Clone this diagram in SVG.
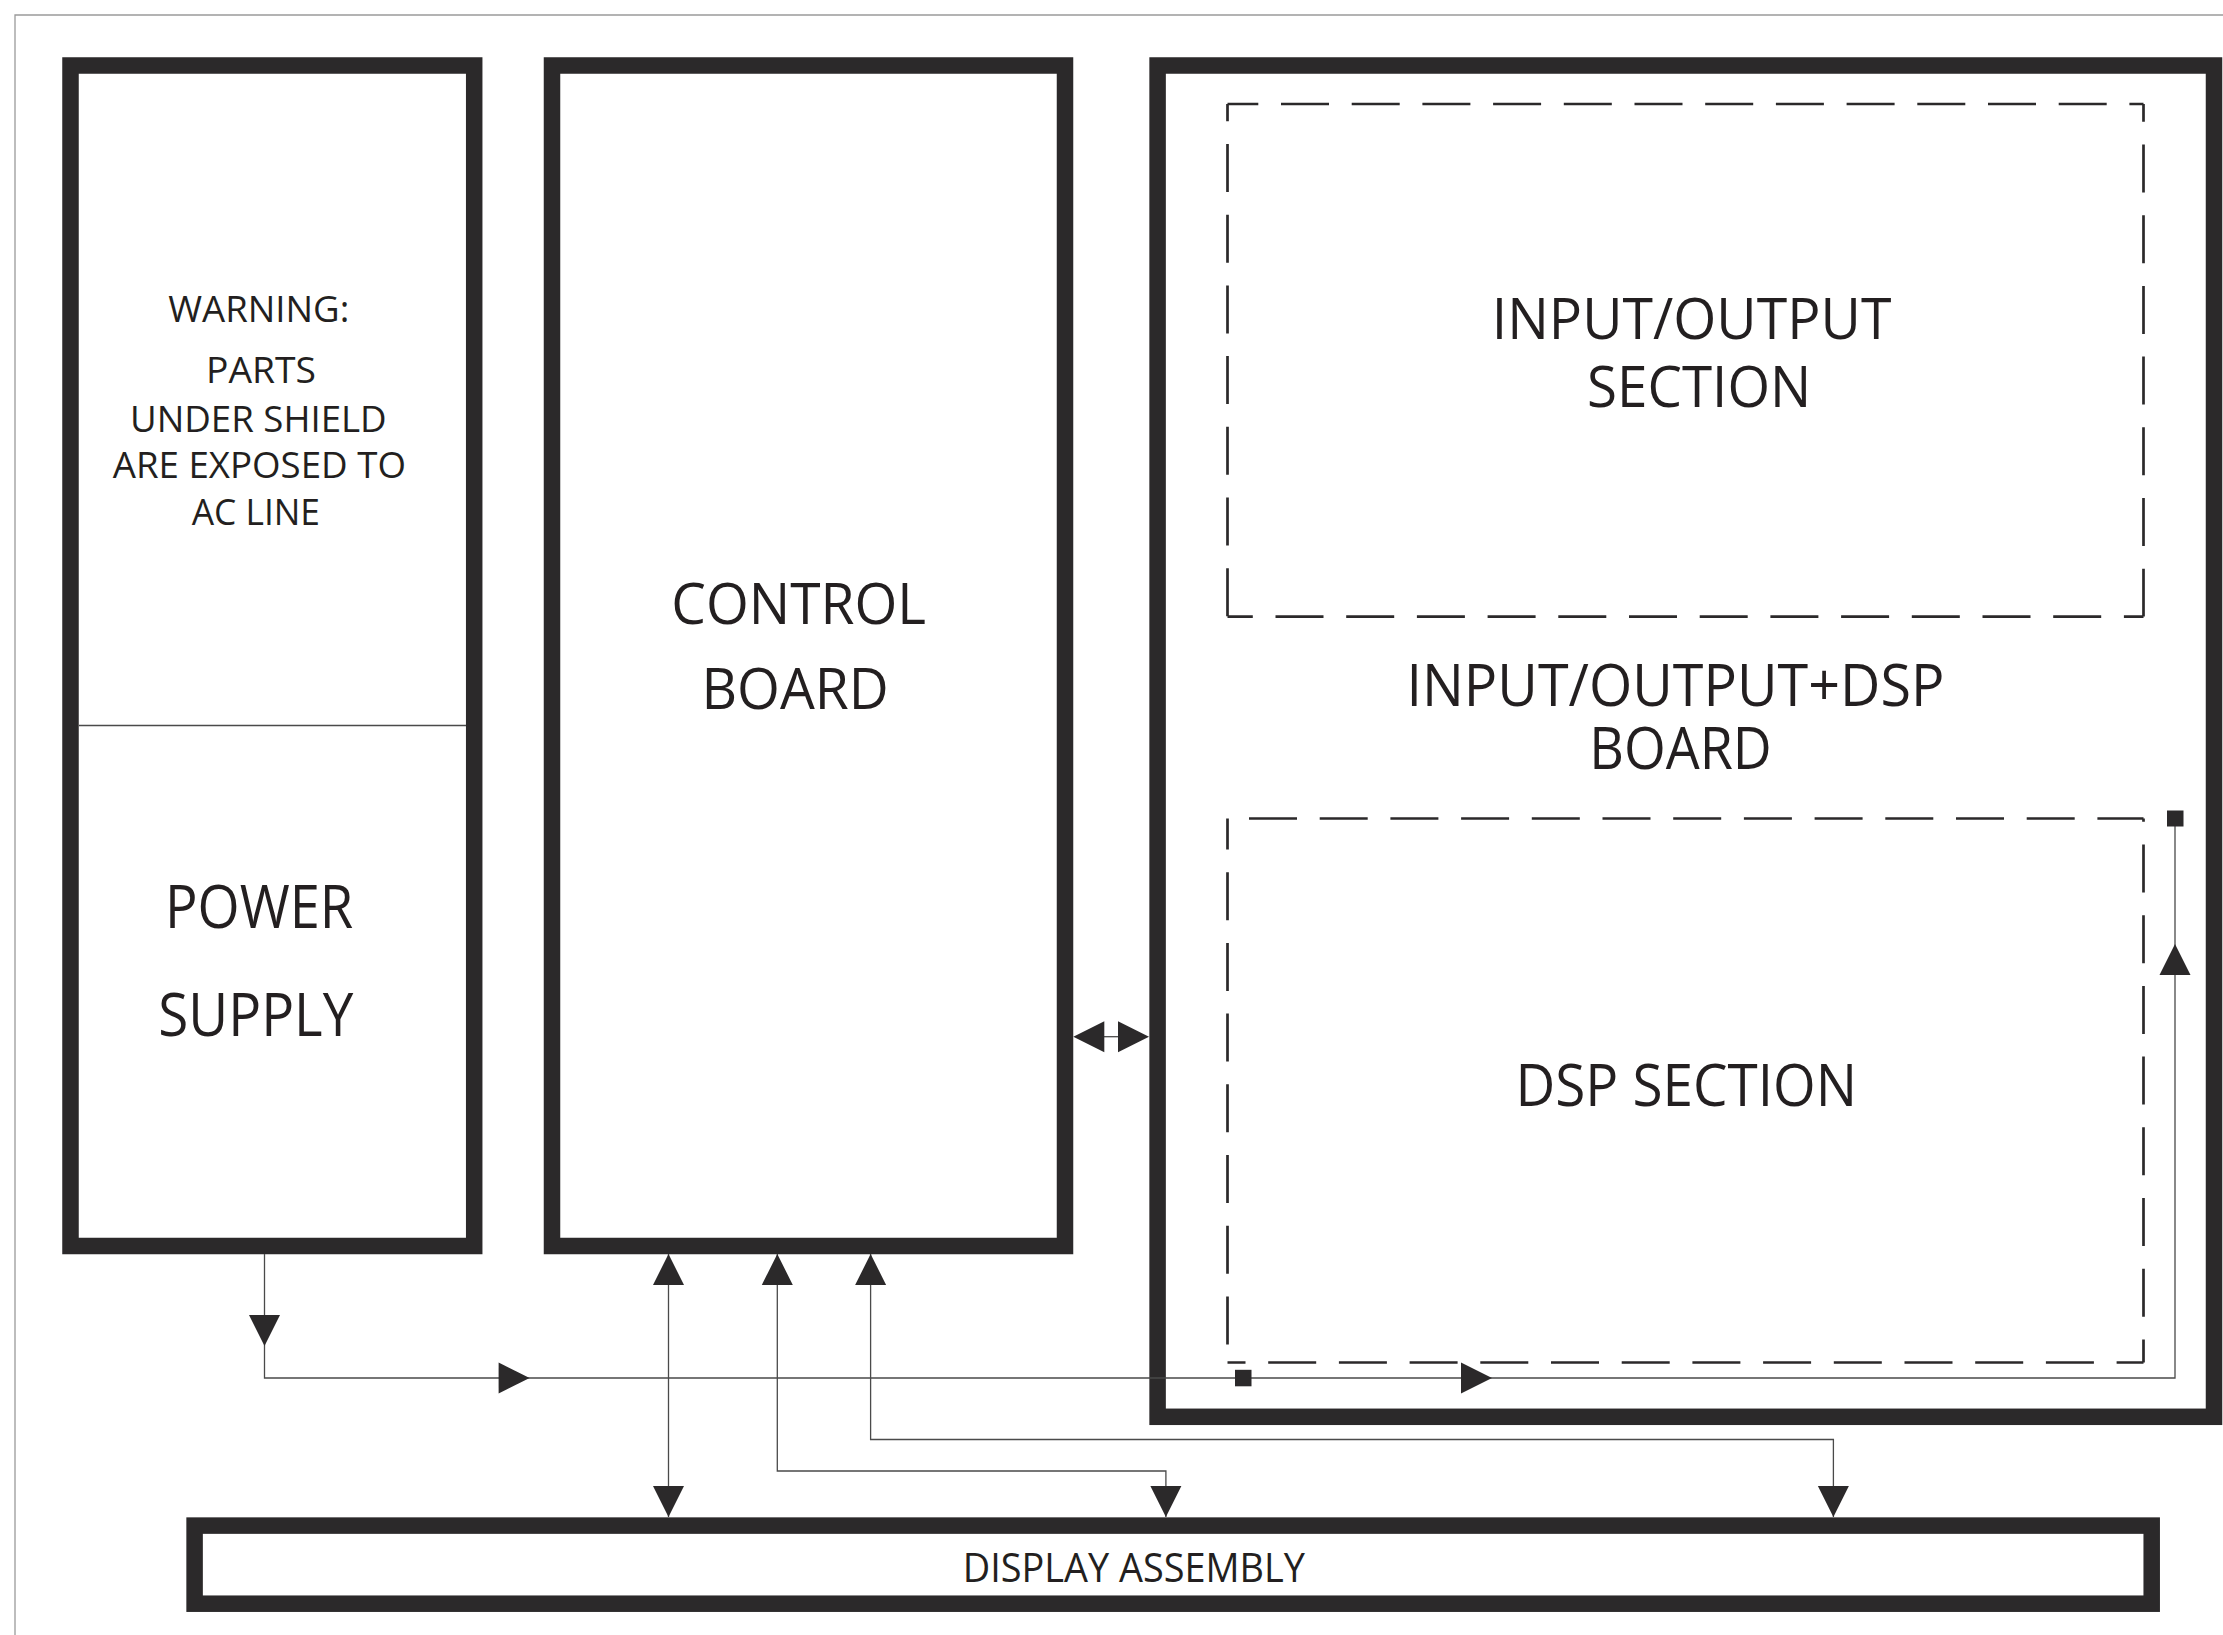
<svg xmlns="http://www.w3.org/2000/svg" xmlns:xlink="http://www.w3.org/1999/xlink" width="2223" height="1635" viewBox="0 0 2223 1635">
<style>
.box{fill:none;stroke:#2b292a;stroke-width:16.5}
.dash{fill:none;stroke:#2b292a;stroke-width:2.7;stroke-dasharray:48 22.7}
.thin{fill:none;stroke:#4a4a4a;stroke-width:1.3}
.frame{fill:none;stroke:#9a9a9a;stroke-width:1.3}
.sq{fill:#2b292a}
text{font-family:"Open Sans","Liberation Sans",sans-serif;fill:#231f20}
</style>
<defs>
<path id="ah" d="M0,0 L-31,-15.5 L-31,15.5 Z" fill="#2b292a"/>
</defs>
<rect x="0" y="0" width="2223" height="1635" fill="#ffffff"/>
<g id="frame">
<path class="frame" d="M15,1635 V15 H2223"/>
</g>

<g id="node-power-supply">
<rect class="box" x="70.5" y="65.5" width="403.7" height="1180.5"/>
<line class="thin" x1="79" y1="725.5" x2="466" y2="725.5"/>
<text font-size="36"><tspan x="168.3" y="321.7" textLength="181" lengthAdjust="spacingAndGlyphs">WARNING:</tspan><tspan x="206" y="383.3" textLength="110" lengthAdjust="spacingAndGlyphs">PARTS</tspan><tspan x="130" y="431.7" textLength="256.7" lengthAdjust="spacingAndGlyphs">UNDER SHIELD</tspan><tspan x="112.7" y="478.3" textLength="293.3" lengthAdjust="spacingAndGlyphs">ARE EXPOSED TO</tspan><tspan x="191.7" y="525" textLength="128.3" lengthAdjust="spacingAndGlyphs">AC LINE</tspan></text>
<text font-size="60.5"><tspan x="165" y="928.3" textLength="188.3" lengthAdjust="spacingAndGlyphs">POWER</tspan><tspan x="158.3" y="1035.7" textLength="195" lengthAdjust="spacingAndGlyphs">SUPPLY</tspan></text>
</g>

<g id="node-control-board">
<rect class="box" x="552" y="65.5" width="513" height="1180.5"/>
<text font-size="57"><tspan x="671.3" y="623.8" textLength="254.7" lengthAdjust="spacingAndGlyphs">CONTROL</tspan><tspan x="701.5" y="709.2" textLength="187.3" lengthAdjust="spacingAndGlyphs">BOARD</tspan></text>
</g>

<g id="node-io-dsp-board">
<rect class="box" x="1157.6" y="65.5" width="1056.4" height="1351.3"/>
<text font-size="58.5"><tspan x="1406.4" y="706" textLength="538" lengthAdjust="spacingAndGlyphs">INPUT/OUTPUT+DSP</tspan><tspan x="1589.3" y="769.3" textLength="182.5" lengthAdjust="spacingAndGlyphs">BOARD</tspan></text>
<g id="node-io-section">
<line class="dash" x1="1227.5" y1="104" x2="2143.5" y2="104" stroke-dashoffset="17.2"/>
<line class="dash" x1="1227.5" y1="104" x2="1227.5" y2="616.6" stroke-dashoffset="30.7"/>
<line class="dash" x1="2143.5" y1="104" x2="2143.5" y2="616.6" stroke-dashoffset="30.2"/>
<line class="dash" x1="1227.5" y1="616.6" x2="2143.5" y2="616.6" stroke-dashoffset="22.7"/>
<text font-size="56.5"><tspan x="1491.7" y="339.3" textLength="399.7" lengthAdjust="spacingAndGlyphs">INPUT/OUTPUT</tspan><tspan x="1587" y="407.2" textLength="224.2" lengthAdjust="spacingAndGlyphs">SECTION</tspan></text>
</g>
<g id="node-dsp-section">
<line class="dash" x1="1227.5" y1="818.5" x2="2143.5" y2="818.5" stroke-dashoffset="49.2"/>
<line class="dash" x1="1227.5" y1="818.5" x2="1227.5" y2="1362.5" stroke-dashoffset="17"/>
<line class="dash" x1="2143.5" y1="818.5" x2="2143.5" y2="1362.5" stroke-dashoffset="44.7"/>
<line class="dash" x1="1227.5" y1="1362.5" x2="2143.5" y2="1362.5" stroke-dashoffset="30"/>
<text x="1515.4" y="1106" font-size="59" textLength="341.6" lengthAdjust="spacingAndGlyphs">DSP SECTION</text>
</g>
</g>

<g id="node-display-assembly">
<rect class="box" x="194.6" y="1525.6" width="1957.1" height="78.1"/>
<text x="962.7" y="1581.7" font-size="40" textLength="342.3" lengthAdjust="spacingAndGlyphs">DISPLAY ASSEMBLY</text>
</g>

<g id="connectors">
<path class="thin" d="M264.5,1254 V1378 H2175 V818"/>
<use xlink:href="#ah" transform="translate(264.5,1346) rotate(90)"/>
<use xlink:href="#ah" transform="translate(529.6,1378)"/>
<use xlink:href="#ah" transform="translate(1492,1378)"/>
<use xlink:href="#ah" transform="translate(2175,944) rotate(-90)"/>
<rect class="sq" x="1235" y="1369.8" width="16.5" height="16.5"/>
<rect class="sq" x="2167" y="810.5" width="16.5" height="16"/>
<line class="thin" x1="668.5" y1="1254" x2="668.5" y2="1517"/>
<use xlink:href="#ah" transform="translate(668.5,1254) rotate(-90)"/>
<use xlink:href="#ah" transform="translate(668.5,1517) rotate(90)"/>
<path class="thin" d="M777.3,1254 V1471 H1165.9 V1517"/>
<use xlink:href="#ah" transform="translate(777.3,1254) rotate(-90)"/>
<use xlink:href="#ah" transform="translate(1165.9,1517) rotate(90)"/>
<path class="thin" d="M870.6,1254 V1439.5 H1833.4 V1517"/>
<use xlink:href="#ah" transform="translate(870.6,1254) rotate(-90)"/>
<use xlink:href="#ah" transform="translate(1833.4,1517) rotate(90)"/>
<line class="thin" x1="1100" y1="1036.7" x2="1122" y2="1036.7"/>
<use xlink:href="#ah" transform="translate(1073.3,1036.7) rotate(180)"/>
<use xlink:href="#ah" transform="translate(1149,1036.7)"/>
</g>
</svg>
